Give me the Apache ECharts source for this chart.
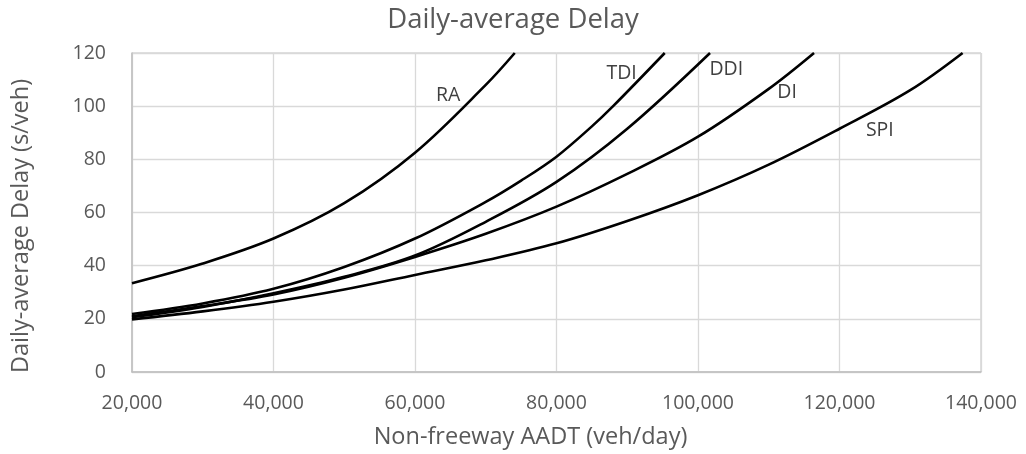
<!DOCTYPE html>
<html>
<head>
<meta charset="utf-8">
<script src="https://cdn.jsdelivr.net/npm/echarts@6/dist/echarts.min.js"></script>
<style>
html,body{margin:0;padding:0;background:#fff;}
#chart{width:1026px;height:454px;}
</style>
</head>
<body>
<div id="chart"></div>
<script>
// ---- data (x = Non-freeway AADT veh/day, y = delay s/veh) ----
const seriesNames = ['RA', 'TDI', 'DDI', 'DI', 'SPI'];
const raData  = [[20000,33.4],[30000,40.8],[40000,50.2],[50000,63.5],[60000,82.5],[70000,108],[74100,120]];
const tdiData = [[20000,21.8],[30000,25.8],[40000,31.3],[50000,39.5],[60000,50.2],[70000,64],[75000,72],[80000,81],[85000,92.4],[88000,100],[95300,120]];
const ddiData = [[20000,20.6],[30000,24.5],[40000,29.6],[50000,35.8],[60000,43.8],[70000,56.5],[80000,71.5],[90000,91.5],[101700,120]];
const diData  = [[20000,21.0],[30000,24.8],[40000,29.2],[50000,35.5],[60000,43.3],[70000,52],[80000,62.2],[90000,74.5],[100000,88.5],[110000,106.5],[116400,120]];
const spiData = [[20000,19.8],[30000,22.8],[40000,26.4],[50000,31],[60000,36.5],[70000,42],[80000,48.4],[90000,56.8],[100000,66.5],[110000,78],[120000,91.5],[130000,106],[137400,120]];
const allData = [raData, tdiData, ddiData, diData, spiData];
// curve name labels, anchored in data units
const labelX = [64700, 89200, 104000, 112600, 125700];
const labelY = [104.2, 112.4, 113.9, 105.1, 91.0];
const yAxisTitle = 'Daily-average Delay (s/veh)';

const chart = echarts.init(document.getElementById('chart'), null, {renderer: 'canvas'});
const FONT = 'Open Sans';
const series = seriesNames.map((name, i) => ({
  name: name,
  type: 'line',
  data: allData[i],
  smooth: 0.35,
  symbol: 'none',
  lineStyle: {color: '#000', width: 2.6},
  z: 3,
  markPoint: {
    symbol: 'circle',
    symbolSize: 0,
    data: [{coord: [labelX[i], labelY[i]], value: name}],
    label: {show: true, position: 'inside', formatter: name, color: '#404040', fontSize: 19.5, fontFamily: FONT},
    itemStyle: {color: 'transparent'}
  }
}));

chart.setOption({
  animation: false,
  backgroundColor: '#fff',
  title: {
    text: 'Daily-average Delay',
    left: 'center',
    top: 1,
    textStyle: {color: '#595959', fontSize: 27.5, fontWeight: 'normal', fontFamily: FONT}
  },
  graphic: [{
    type: 'text',
    x: 21, y: 226,
    rotation: Math.PI / 2,
    style: {text: yAxisTitle, fill: '#595959', fontSize: 23.5, fontFamily: FONT, align: 'center', verticalAlign: 'middle'}
  }],
  grid: {left: 132, right: 45, top: 53, bottom: 82, show: true, borderColor: '#bfbfbf', borderWidth: 1, backgroundColor: 'transparent'},
  xAxis: {
    type: 'value', min: 20000, max: 140000, interval: 20000,
    name: 'Non-freeway AADT (veh/day)',
    nameLocation: 'middle', nameGap: 53,
    nameTextStyle: {color: '#595959', fontSize: 23.5, fontFamily: FONT, padding: [0, 52, 0, 0]},
    axisLine: {show: true, lineStyle: {color: '#bfbfbf', width: 1.5}},
    axisTick: {show: false},
    splitLine: {show: true, lineStyle: {color: '#d9d9d9', width: 1.3}},
    axisLabel: {color: '#595959', fontSize: 19.5, fontFamily: FONT, margin: 21,
      formatter: v => v.toLocaleString('en-US')}
  },
  yAxis: {
    type: 'value', min: 0, max: 120, interval: 20,
    axisLine: {show: true, lineStyle: {color: '#bfbfbf', width: 1.5}},
    axisTick: {show: false},
    splitLine: {show: true, lineStyle: {color: '#d9d9d9', width: 1.3}},
    axisLabel: {color: '#595959', fontSize: 19.5, fontFamily: FONT, margin: 26}
  },
  series: series
});
</script>
</body>
</html>
